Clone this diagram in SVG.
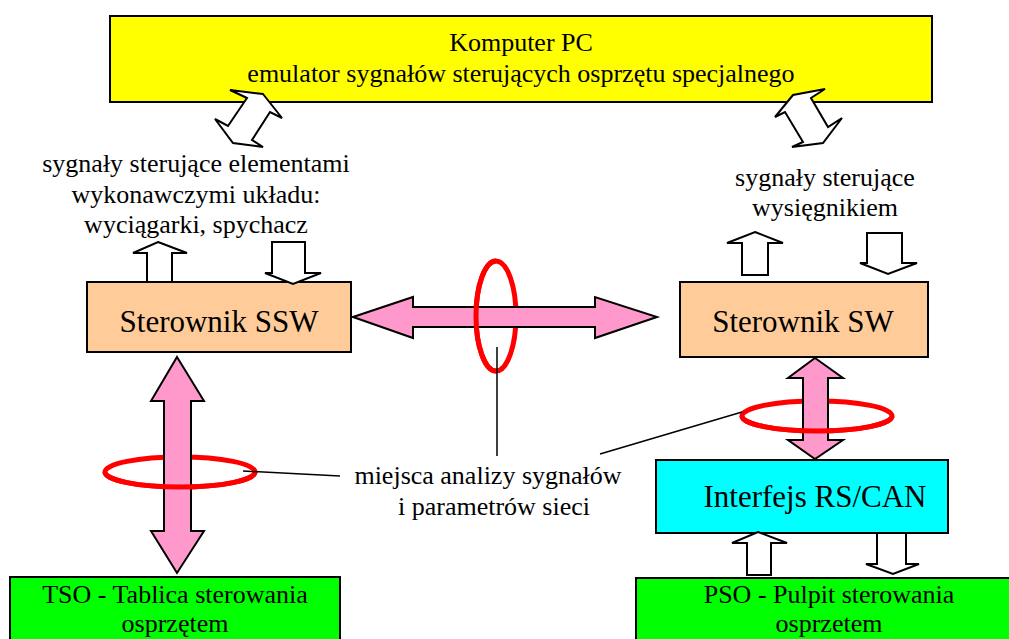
<svg xmlns="http://www.w3.org/2000/svg" width="1009" height="639" viewBox="0 0 1009 639">
<style>
.t{font-family:"Liberation Serif","Times New Roman",serif;fill:#000;text-anchor:middle}
.s26{font-size:26px}
.s31{font-size:31px}
.box{stroke:#000;stroke-width:2}
.wa{fill:#fff;stroke:#000;stroke-width:2;stroke-linejoin:miter}
.pa{fill:#FF99CC;stroke:#000;stroke-width:2}
.ring{fill:none;stroke:#FF0000;stroke-width:5}
.ptr{stroke:#000;stroke-width:1.5;fill:none}
</style>
<rect width="1009" height="639" fill="#fff"/>

<g id="komputer">
<rect class="box" x="110" y="16" width="822" height="86" fill="#FFFF00"/>
<text class="t s26" x="521" y="51">Komputer PC</text>
<text class="t s26" x="521" y="82">emulator sygnałów sterujących osprzętu specjalnego</text>
</g>

<g id="label-left">
<text class="t s26" x="196" y="172">sygnały sterujące elementami</text>
<text class="t s26" x="196" y="203">wykonawczymi układu:</text>
<text class="t s26" x="196" y="233">wyciągarki, spychacz</text>
</g>

<g id="label-right">
<text class="t s26" x="825" y="186">sygnały sterujące</text>
<text class="t s26" x="825" y="216">wysięgnikiem</text>
</g>

<g id="ssw">
<rect class="box" x="87" y="282" width="264" height="70" fill="#FFCC99"/>
<text class="t s31" x="219" y="332">Sterownik SSW</text>
</g>

<g id="sw">
<rect class="box" x="680" y="282" width="248" height="75" fill="#FFCC99"/>
<text class="t s31" x="803" y="332">Sterownik SW</text>
</g>

<g id="interfejs">
<rect class="box" x="656" y="460" width="292" height="73" fill="#00FFFF"/>
<text class="t s31" x="815" y="507">Interfejs RS/CAN</text>
</g>

<g id="tso">
<rect class="box" x="10" y="577" width="330" height="70" fill="#00FF00"/>
<text class="t s26" x="175" y="603">TSO - Tablica sterowania</text>
<text class="t s26" x="175" y="632">osprzętem</text>
</g>

<g id="pso">
<rect class="box" x="636" y="578" width="386" height="70" fill="#00FF00"/>
<text class="t s26" x="829" y="603">PSO - Pulpit sterowania</text>
<text class="t s26" x="829" y="632">osprzetem</text>
</g>

<g id="connectors">
<!-- diagonal white arrows from PC -->
<polygon class="wa" points="263,94 282,118 270,112 252,140 263,147 233,143 215,119 228,126 247,98 230,90"/>
<polygon class="wa" points="793,95 775,117 785,112 803,142 792,147 823,143 842,118 828,127 811,98 825,89"/>
<!-- small white arrows -->
<polygon class="wa" points="158,242 187,253 172,253 172,282 147,282 147,253 133,253"/>
<polygon class="wa" points="272,242 305,242 305,273 321,273 293,284 265,273 272,273"/>
<polygon class="wa" points="755,232 783,243 768,243 768,275 742,275 742,243 727,243"/>
<polygon class="wa" points="867,233 902,233 902,263 917,263 888,274 860,263 867,263"/>
<polygon class="wa" points="758,532 787,543 771,543 771,575 747,575 747,543 732,543"/>
<polygon class="wa" points="877,533 906,533 906,564 919,564 893,574 866,564 877,564"/>

<!-- horizontal network arrow with ring -->
<ellipse class="ring" cx="496" cy="316" rx="20" ry="55"/>
<polygon class="pa" points="353,317 413,297 413,307 595,307 595,297 657,317 595,338 595,327 413,327 413,338"/>
<path class="ring" d="M496,261 A20,55 0 0 0 496,371"/>

<!-- left vertical arrow with ring -->
<ellipse class="ring" cx="180" cy="472" rx="75" ry="15"/>
<polygon class="pa" points="177,357 204,401 191,401 191,531 204,531 177,573 151,531 164,531 164,401 151,401"/>
<path class="ring" d="M105,472 A75,15 0 0 0 255,472"/>

<!-- right vertical arrow with ring -->
<ellipse class="ring" cx="817" cy="416" rx="75" ry="15"/>
<polygon class="pa" points="815,358 843,378 828,378 828,440 843,440 815,459 788,440 803,440 803,378 788,378"/>
<path class="ring" d="M742,416 A75,15 0 0 0 892,416"/>

<!-- pointer lines -->
<line class="ptr" x1="497" y1="347" x2="497" y2="456"/>
<line class="ptr" x1="243" y1="471" x2="340" y2="476"/>
<line class="ptr" x1="600" y1="454" x2="742" y2="412"/>
</g>

<g id="label-analysis">
<text class="t s26" x="488" y="484">miejsca analizy sygnałów</text>
<text class="t s26" x="494" y="515">i parametrów sieci</text>
</g>
</svg>
